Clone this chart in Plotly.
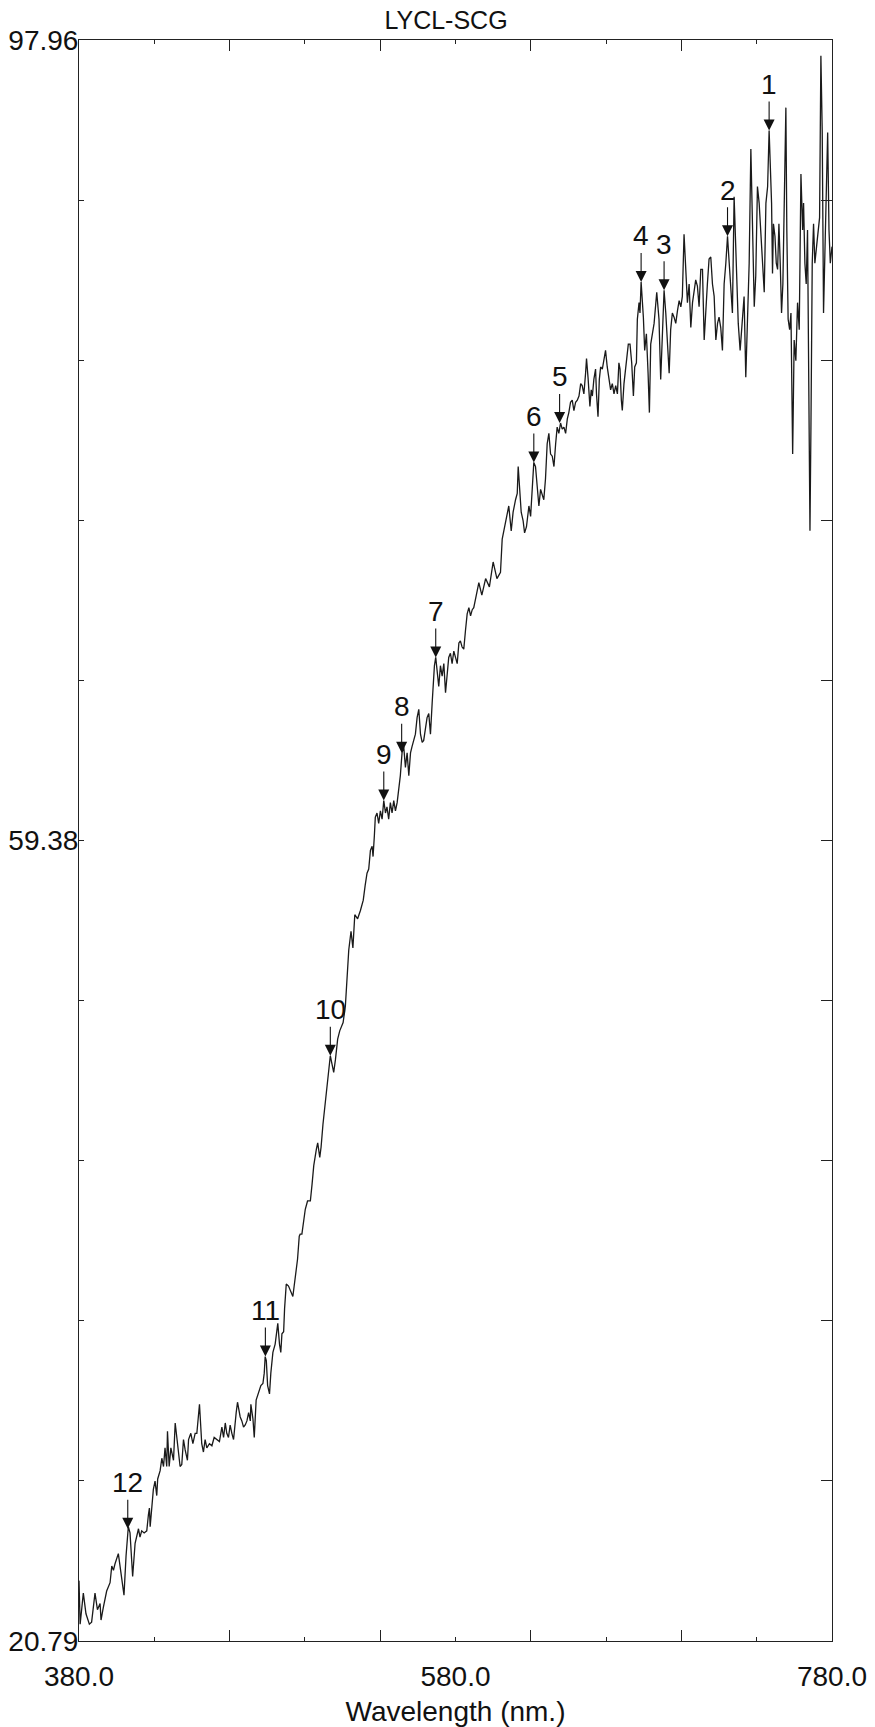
import plotly.graph_objects as go

# ---- spectrum (wavelength nm, value) ----
wavelength = [
    380.0, 380.6, 382.3, 383.7, 385.5, 386.7, 388.5, 389.8, 391.2, 391.7, 392.9, 394.7, 396.5, 397.4, 398.3, 399.1,
    400.9, 401.8, 402.7, 403.9, 405.0, 406.2, 407.1, 408.5, 409.8, 410.7, 411.6, 412.4, 413.3, 414.6, 416.0, 416.9,
    417.4, 417.8, 418.7, 419.5, 420.4, 421.3, 421.8, 423.1, 424.0, 424.9, 425.7, 426.6, 427.0, 427.9, 428.8, 430.2,
    431.1, 432.0, 432.8, 433.7, 434.6, 435.5, 436.4, 437.6, 438.2, 439.4, 440.5, 441.7, 442.6, 444.0, 445.2, 446.1,
    447.0, 447.9, 449.3, 450.6, 451.8, 453.2, 454.6, 455.9, 456.8, 457.7, 458.5, 459.4, 460.3, 461.2, 462.1, 463.5,
    464.2, 465.6, 466.5, 467.4, 468.3, 469.2, 470.1, 471.0,
    471.3, 472.4, 473.1, 474.1, 474.8, 475.9, 476.6, 477.7, 478.4, 478.9, 479.5, 480.2, 481.2, 481.9, 483.0, 484.2,
    485.1, 485.6, 486.5, 487.2, 487.8, 488.7, 489.2, 490.1, 491.3, 492.6, 493.6, 494.3, 495.4, 496.1, 497.0, 497.5,
    498.4, 499.3, 500.2, 501.4,
    502.9, 503.8, 504.7, 506.1, 506.8, 507.9, 508.6, 509.6, 510.9, 511.8, 512.7, 513.5, 514.4, 515.3, 516.2, 517.4,
    518.5, 519.2, 520.3, 521.5, 522.0, 522.8, 523.3,
    524.5, 525.5, 526.5, 528.0, 529.5, 531.0, 532.0,
    533.0, 533.9, 534.8, 535.7, 536.2, 536.9, 537.4, 538.3, 539.2, 540.1, 541.0, 541.9, 542.8, 543.6, 544.5, 545.4,
    546.3, 547.2, 548.1, 549.0, 549.8, 550.7, 551.6, 552.5, 553.4, 554.3, 555.2, 556.1, 556.9, 557.8, 558.7, 559.6,
    560.5, 561.4, 562.3, 563.1, 564.0, 564.9, 565.8, 566.7, 567.6, 568.1, 568.8, 569.5, 570.2, 571.1, 572.0, 572.9,
    573.8, 574.7, 575.6, 576.4, 577.3, 578.2, 579.1, 580.0, 580.9, 581.8, 582.6, 583.5, 584.4, 585.3, 586.2, 587.1,
    588.0, 588.9, 589.7, 590.6, 591.5, 592.4,
    594.0, 596.0, 598.0, 600.0, 602.0,
    603.9, 604.8, 606.0, 607.1, 608.3, 609.6, 610.6, 611.9, 612.8, 613.3, 614.2, 614.9, 615.9, 616.7, 617.7, 619.0,
    619.9, 620.7, 621.6, 622.5, 623.4, 624.3, 625.2, 626.1, 626.9, 627.8, 628.7, 629.6, 630.5, 631.4, 632.3, 633.2,
    634.0, 634.9, 635.8, 636.7, 637.6, 638.5, 639.4, 640.2, 641.1, 642.0, 642.9, 643.8, 644.7, 645.6, 646.5, 647.3,
    648.2, 649.1, 649.6, 650.4, 650.9, 651.4, 652.1, 652.7, 653.5, 654.4, 654.9, 655.7, 656.4, 657.1, 658.0, 658.9,
    659.7, 660.6, 661.5, 662.4, 663.3, 664.2, 665.1, 666.0, 666.8, 667.4, 668.1, 668.6, 669.5, 670.9, 671.8, 672.7,
    673.6, 674.5, 675.2, 676.1, 676.6, 677.5, 678.0, 678.6, 679.8, 680.5, 681.4, 682.3, 683.0,
    683.7, 685.5, 686.9, 688.1, 689.0, 689.9, 690.8, 691.7, 692.6, 693.5, 694.3, 695.2, 696.1, 697.0, 697.9, 698.8,
    699.7, 700.5, 701.4, 702.3, 703.2, 704.1, 705.0, 705.9, 706.7, 707.6, 708.5, 709.4, 710.3, 711.2, 712.1, 712.9,
    713.8, 714.7, 715.6, 716.5, 717.4, 718.3, 719.2, 720.0, 720.9, 721.8, 722.7, 723.6, 724.5, 725.4, 726.3, 727.1,
    728.0, 728.6, 729.4, 730.2, 731.2, 731.9, 732.6, 733.3, 734.2, 735.1, 736.0, 736.9, 737.8, 738.7, 739.5, 740.4,
    741.3, 742.2, 743.1, 744.0, 744.9, 745.8, 746.6, 747.2, 747.9, 748.4, 748.9, 749.7, 750.4, 751.1, 751.8, 752.5,
    753.2, 753.9, 754.6, 755.5, 756.0, 756.7, 757.5, 758.2, 759.1, 759.9, 760.8, 761.7, 762.6, 763.5, 764.4, 764.9,
    765.6, 766.3, 767.0, 767.7, 768.3, 768.8, 769.5, 770.2, 770.9, 771.8, 772.7, 773.4, 774.1, 774.8, 775.5, 776.3,
    777.0, 777.7, 778.4, 779.1, 780.0,
]
reflectance = [
    23.7, 21.6, 23.1, 22.1, 21.6, 21.7, 23.1, 22.3, 22.6, 21.8, 22.4, 23.2, 23.6, 24.4, 24.2, 24.5,
    25.0, 24.4, 23.9, 23.0, 24.9, 26.3, 26.0, 23.9, 25.5, 25.9, 26.2, 25.8, 26.1, 26.0, 26.1, 26.9,
    27.2, 26.3, 27.4, 28.1, 28.5, 27.8, 28.6, 29.0, 29.6, 29.2, 30.1, 29.2, 30.9, 29.2, 30.1, 29.5,
    31.3, 30.6, 30.0, 29.2, 29.3, 30.5, 30.0, 29.5, 30.5, 30.8, 30.3, 30.8, 30.8, 32.2, 30.3, 29.9,
    30.5, 30.1, 30.3, 30.2, 30.6, 30.5, 30.4, 31.1, 30.6, 31.3, 30.8, 30.6, 31.2, 30.8, 30.5, 31.8,
    32.3, 31.6, 31.4, 31.1, 31.2, 31.4, 31.8, 31.4,
    32.2, 31.5, 30.6, 32.4, 32.6, 32.9, 33.1, 33.2, 33.7, 34.5, 34.3, 33.1, 32.7, 33.7, 34.7, 35.1,
    35.6, 36.1, 35.1, 34.7, 35.6, 35.7, 36.8, 38.0, 37.9, 37.6, 37.4, 37.9, 38.8, 39.2, 40.3, 40.4,
    40.4, 41.1, 41.6, 42.0,
    42.0, 42.8, 43.7, 44.5, 44.8, 44.1, 44.6, 45.7, 46.9, 47.8, 48.5, 49.0, 48.6, 48.2, 48.8, 49.8,
    50.2, 50.4, 50.6, 51.4, 52.2, 53.3, 54.1,
    55.0, 54.2, 55.8, 55.6, 56.0, 56.5, 57.2,
    57.8, 58.0, 58.9, 59.1, 58.6, 59.6, 60.5, 60.7, 60.2, 60.8, 60.4, 61.3, 60.7, 61.0, 60.4, 61.2,
    60.7, 61.3, 60.8, 61.2, 61.7, 62.5, 63.6, 63.9, 62.9, 63.6, 62.5, 63.6, 63.9, 64.2, 64.5, 65.3,
    65.7, 64.5, 64.1, 64.2, 64.9, 65.3, 65.5, 64.5, 66.0, 67.1, 67.8, 68.2, 67.6, 66.8, 67.8, 67.3,
    67.9, 66.5, 67.4, 68.2, 68.4, 67.9, 68.5, 68.2, 67.9, 68.9, 69.0, 68.7, 68.6, 69.5, 70.3, 70.6,
    70.2, 70.5, 70.6, 71.0, 71.5, 71.8,
    71.2, 72.0, 71.6, 72.8, 72.0,
    72.3, 73.9, 74.5, 75.0, 75.5, 74.3, 75.2, 75.8, 76.1, 77.4, 75.8, 75.2, 74.8, 74.2, 74.5, 75.5,
    75.0, 76.6, 77.6, 77.4, 76.4, 75.5, 76.3, 76.0, 75.8, 76.8, 78.5, 79.0, 78.0, 77.9, 77.4, 78.5,
    79.3, 79.0, 79.5, 79.2, 79.3, 79.0, 79.7, 80.0, 80.5, 80.6, 80.1, 80.5, 80.6, 80.8, 81.4, 81.3,
    80.9, 81.9, 82.6, 81.7, 80.8, 80.3, 81.1, 80.8, 81.6, 82.1, 80.9, 79.8, 81.6, 82.2, 82.1, 82.7,
    83.0, 82.2, 81.6, 81.1, 81.4, 80.9, 81.3, 80.9, 82.4, 82.1, 80.6, 80.1, 81.4, 82.5, 83.3, 83.3,
    82.4, 80.8, 82.2, 82.4, 84.5, 85.3, 84.8, 86.3, 84.6, 83.0, 83.8, 81.9, 80.0,
    83.3, 84.3, 85.8, 84.5, 81.6, 84.0, 85.9, 84.8, 83.2, 81.9, 84.0, 84.8, 84.6, 84.3, 84.9, 85.4,
    85.1, 85.6, 88.6, 87.2, 85.3, 86.2, 84.1, 85.3, 85.8, 86.4, 86.1, 85.1, 86.9, 86.9, 83.5, 85.1,
    86.2, 87.4, 87.5, 86.2, 85.6, 83.5, 84.3, 84.6, 84.1, 83.0, 86.2, 87.2, 88.5, 87.2, 85.9, 84.8,
    90.4, 88.8, 85.6, 84.3, 83.0, 84.0, 84.5, 85.6, 81.7, 84.0, 87.2, 92.7, 88.0, 85.1, 86.6, 90.9,
    90.1, 88.8, 87.4, 85.8, 90.1, 90.9, 93.6, 92.3, 90.1, 86.7, 89.1, 88.5, 87.2, 86.9, 89.1, 87.2,
    84.8, 86.2, 90.4, 94.7, 88.8, 84.5, 84.0, 84.8, 78.0, 83.5, 82.5, 85.3, 84.0, 91.5, 88.8, 90.1,
    87.2, 86.2, 88.8, 80.0, 74.3, 79.2, 87.2, 89.1, 87.2, 88.0, 88.8, 89.4, 97.2, 93.6, 84.8, 88.0,
    89.4, 93.5, 88.8, 87.2, 88.0,
]

# ---- numbered arrows ----
peak_labels = ["1", "2", "3", "4", "5", "6", "7", "8", "9", "10", "11", "12"]
peak_wavelength = [746.6, 724.5, 690.8, 678.6, 635.3, 621.6, 569.5, 551.4, 541.9, 513.5, 479.0, 405.9]
peak_value = [93.6, 88.5, 85.9, 86.3, 79.5, 77.6, 68.2, 63.6, 61.3, 49.0, 34.5, 26.2]

# ---- axes ----
title_text = "LYCL-SCG"
x_title = "Wavelength (nm.)"
x_tick_values = [380, 420, 500, 580, 660, 740, 780]
x_tick_text = ["380.0", "", "", "580.0", "", "", "780.0"]
x_long_ticks = [460, 540, 620, 700]
y_tick_values = [20.79, 28.51, 36.22, 43.94, 51.66, 59.38, 67.09, 74.81, 82.53, 90.24, 97.96]
y_tick_text = ["20.79", "", "", "", "", "59.38", "", "", "", "", "97.96"]

FONT = "Liberation Sans, Arial, Helvetica, sans-serif"
INK = "#111111"

fig = go.Figure()
fig.add_trace(go.Scatter(
    x=wavelength, y=reflectance, mode="lines",
    line=dict(color="#1a1a1a", width=1.3),
    showlegend=False, hoverinfo="skip",
))
fig.add_trace(go.Scatter(x=[None], y=[None], yaxis="y2", showlegend=False, hoverinfo="skip"))

for lab, wx, wy in zip(peak_labels, peak_wavelength, peak_value):
    fig.add_annotation(
        x=wx, y=wy, xref="x", yref="y", text=lab,
        showarrow=True, ax=0, ay=-46, arrowhead=2, arrowsize=2.0,
        arrowwidth=1.1, arrowcolor=INK, standoff=0,
        font=dict(family=FONT, size=28, color=INK),
    )

fig.update_layout(
    template="none",
    width=875, height=1727,
    margin=dict(l=79, r=43, t=40, b=86, autoexpand=False),
    paper_bgcolor="white", plot_bgcolor="white",
    font=dict(family=FONT, color=INK, size=28),
    hovermode=False,
    title=dict(text=title_text, x=446 / 875, xanchor="center", xref="container",
               y=1 - 20 / 1727, yanchor="middle", yref="container",
               font=dict(family=FONT, size=25, color=INK)),
    xaxis=dict(
        range=[380, 780], tickmode="array", tickvals=x_tick_values, ticktext=x_tick_text,
        ticks="inside", ticklen=4, tickwidth=1, tickcolor="#222222",
        showline=True, linecolor="#222222", linewidth=1, mirror="ticks",
        showgrid=False, zeroline=False, ticklabelstandoff=10, automargin=False,
        tickfont=dict(family=FONT, size=28, color=INK),
        minor=dict(tickmode="array", tickvals=x_long_ticks, ticks="inside", ticklen=11,
                   tickwidth=1, tickcolor="#222222", showgrid=False),
        title=dict(text=x_title, standoff=10, font=dict(family=FONT, size=28, color=INK)),
    ),
    yaxis=dict(
        range=[20.79, 97.96], tickmode="array", tickvals=y_tick_values, ticktext=y_tick_text,
        ticks="inside", ticklen=5, tickwidth=1, tickcolor="#222222",
        showline=True, linecolor="#222222", linewidth=1, automargin=False,
        showgrid=False, zeroline=False, ticklabelstandoff=-6,
        tickfont=dict(family=FONT, size=28, color=INK),
    ),
    yaxis2=dict(
        overlaying="y", side="right", range=[20.79, 97.96], tickmode="array", tickvals=y_tick_values,
        ticks="inside", ticklen=11, tickwidth=1, tickcolor="#222222", showticklabels=False,
        showline=True, linecolor="#222222", linewidth=1, showgrid=False, zeroline=False,
        automargin=False,
    ),
)

# remove the browser's default 8px page margin so the figure sits at the page origin
fig.write_html("out.html", config={"displayModeBar": False, "staticPlot": True},
               post_script="document.body.style.margin='0';")
